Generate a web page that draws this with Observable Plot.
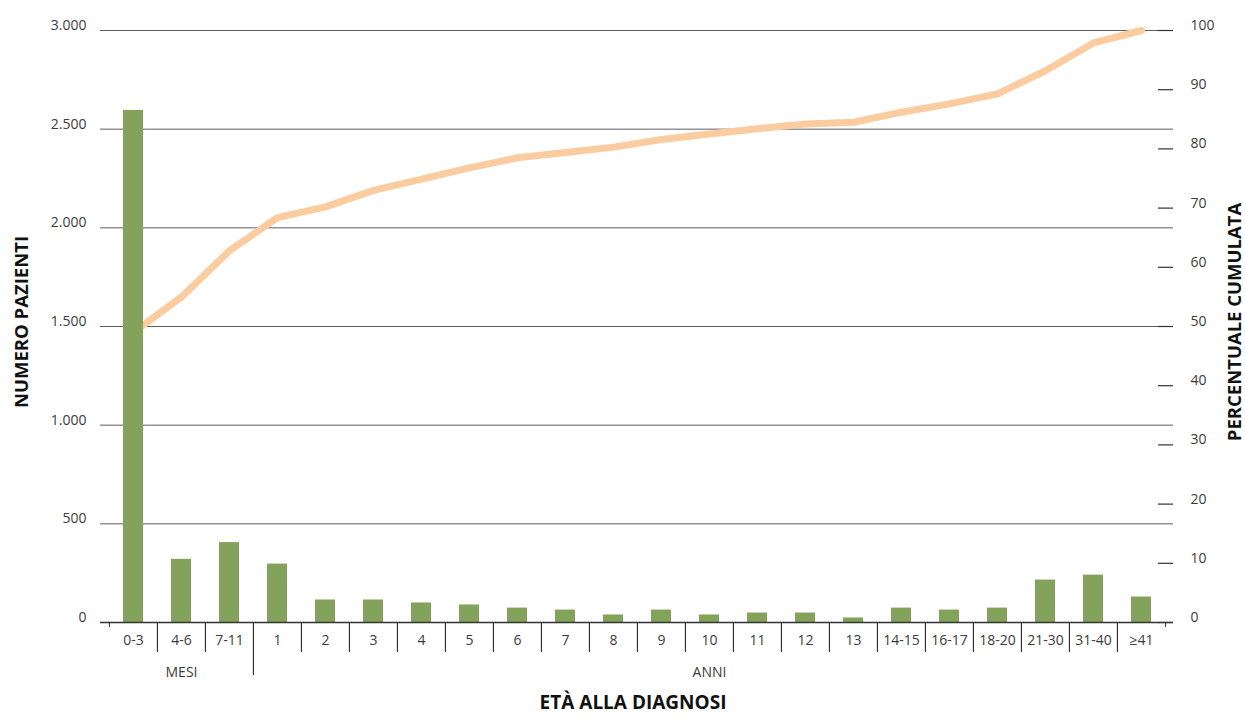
<!DOCTYPE html>
<html>
<head>
<meta charset="utf-8">
<script src="https://cdn.jsdelivr.net/npm/d3@7"></script>
<script src="https://cdn.jsdelivr.net/npm/@observablehq/plot@0.6"></script>
<style>
  body { margin: 0; background: #fff; }
  #chart svg { display: block; }
</style>
</head>
<body>
<div id="chart"></div>
<script>
// ---- data ----
const categories = ["0-3", "4-6", "7-11", "1", "2", "3", "4", "5", "6", "7", "8", "9", "10", "11", "12", "13", "14-15", "16-17", "18-20", "21-30", "31-40", "≥41"];
const patients = [2595, 320, 405, 296, 114, 114, 99, 89, 73, 63, 38, 63, 38, 48, 48, 23, 73, 63, 73, 215, 240, 129];
const cumulativePct = [49, 55, 62.8, 68.4, 70.2, 73, 74.9, 76.8, 78.5, 79.4, 80.3, 81.6, 82.5, 83.4, 84.2, 84.5, 86.2, 87.6, 89.3, 93.2, 97.9, 100];
const leftTicks = [0, 500, 1000, 1500, 2000, 2500, 3000];
const rightTicks = [0, 10, 20, 30, 40, 50, 60, 70, 80, 90, 100];
const groupLabels = ["MESI", "ANNI"];
const groupCenters = ["4-6", "10"];
const longSeparators = ["1"];
const yTitle = "NUMERO PAZIENTI";
const y2Title = "PERCENTUALE CUMULATA";
const xTitle = "ETÀ ALLA DIAGNOSI";

// ---- derived ----
const leftMax = 3000, rightMax = 100;
const k = leftMax / rightMax;
const rows = categories.map((c, i) => ({cat: c, n: patients[i], pct: cumulativePct[i]}));
const groups = groupLabels.map((g, i) => ({label: g, at: groupCenters[i]}));
const itFmt = d3.formatLocale({decimal: ",", thousands: ".", grouping: [3], currency: ["€", ""]}).format(",");

const W = 1245, H = 718;
const xRange = [107, 1166];
const bw = (xRange[1] - xRange[0]) / categories.length;
const normalSeps = categories.slice(1).filter(c => !longSeparators.includes(c));

const titleFont = "'Open Sans', 'DejaVu Sans', sans-serif";

const chart = Plot.plot({
  width: W,
  height: H,
  marginTop: 30,
  marginBottom: 96,
  marginLeft: 100,
  marginRight: 72,
  style: {fontFamily: "'Open Sans', sans-serif", fontSize: "14px", color: "#3c3c3c", background: "#fff", overflow: "visible"},
  x: {type: "band", domain: categories, range: xRange, padding: 0, axis: null},
  y: {domain: [0, leftMax], axis: null},
  marks: [
    // gridlines
    Plot.ruleY(leftTicks.filter(t => t > 0), {stroke: "#5e5e5e", strokeWidth: 1}),
    // cumulative line
    Plot.line(rows, {x: "cat", y: d => d.pct * k, stroke: "#fbcc9f", strokeWidth: 7, strokeLinecap: "round", strokeLinejoin: "round"}),
    // bars
    Plot.barY(rows, {x: "cat", y: "n", fill: "#84a35a", insetLeft: 14, insetRight: 14}),
    // baseline
    Plot.ruleY([0], {stroke: "#333", strokeWidth: 1.5}),
    // right-axis dashes
    Plot.ruleY(rightTicks.map(v => v * k), {stroke: "#333", strokeWidth: 1.2, insetLeft: 1058}),
    // category separators
    Plot.ruleX(normalSeps, {x: d => d, y1: 0, y2: 0, dx: -bw / 2, insetBottom: -30, stroke: "#333", strokeWidth: 1.2}),
    Plot.ruleX(longSeparators, {x: d => d, y1: 0, y2: 0, dx: -bw / 2, insetBottom: -53, stroke: "#333", strokeWidth: 1.2}),
    Plot.ruleX([categories[0]], {x: d => d, y1: 0, y2: 0, dx: -bw / 2, insetBottom: -5, stroke: "#333", strokeWidth: 1}),
    Plot.ruleX([categories[categories.length - 1]], {x: d => d, y1: 0, y2: 0, dx: bw / 2, insetBottom: -5, stroke: "#333", strokeWidth: 1}),
    // axes
    Plot.axisY(leftTicks, {anchor: "left", tickSize: 0, tickPadding: 14, tickFormat: itFmt, dy: -5, label: null, fill: "#3c3c3c"}),
    Plot.axisY(rightTicks.map(v => v * k), {anchor: "right", tickSize: 0, tickPadding: 17, tickFormat: v => String(Math.round(v / k)), dy: -5, label: null, fill: "#3c3c3c"}),
    Plot.axisX({anchor: "bottom", tickSize: 0, tickPadding: 13, label: null, fill: "#3c3c3c"}),
    // group labels
    Plot.text(groups, {x: "at", y: 0, text: "label", dy: 50, fill: "#3c3c3c", fontSize: 14}),
    // titles
    Plot.text([yTitle], {frameAnchor: "left", textAnchor: "middle", text: d => d, rotate: -90, dx: -78, dy: -4.5, fontWeight: "bold", fontSize: 18.5, fontFamily: titleFont, fill: "#111"}),
    Plot.text([y2Title], {frameAnchor: "right", textAnchor: "middle", text: d => d, rotate: -90, dx: 62, dy: -4.5, fontWeight: "bold", fontSize: 18.5, fontFamily: titleFont, fill: "#111"}),
    Plot.text([xTitle], {frameAnchor: "bottom", text: d => d, dx: -4, dy: 86, fontWeight: "bold", fontSize: 19, fontFamily: titleFont, fill: "#111"})
  ]
});

document.getElementById("chart").appendChild(chart);
</script>
</body>
</html>
